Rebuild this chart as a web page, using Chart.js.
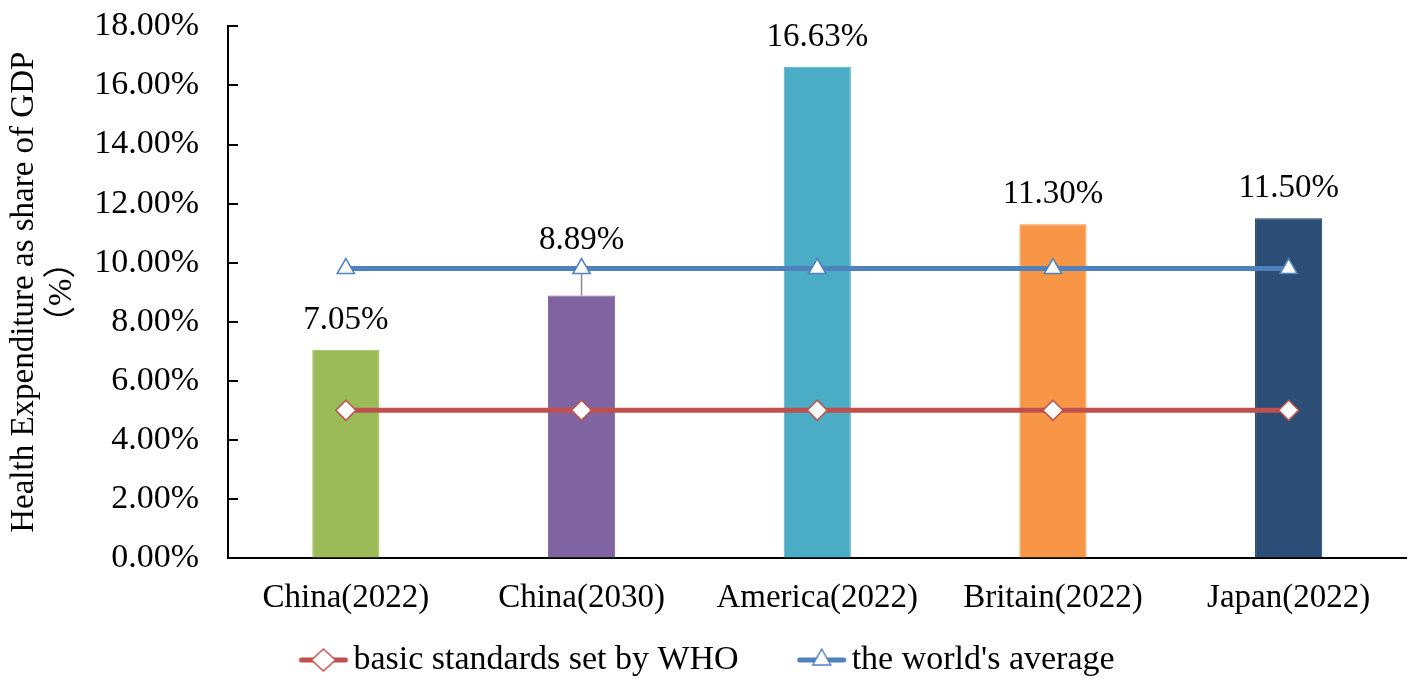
<!DOCTYPE html>
<html>
<head>
<meta charset="utf-8">
<script src="https://cdn.jsdelivr.net/npm/chart.js@4.4.1/dist/chart.umd.min.js"></script>
<style>
  html, body { margin: 0; padding: 0; background: #fff; }
  #wrap { width: 1418px; height: 687px; position: relative; }
</style>
</head>
<body>
<div id="wrap"><canvas id="chart"></canvas></div>
<script>
// data
const categories = ['China(2022)', 'China(2030)', 'America(2022)', 'Britain(2022)', 'Japan(2022)'];
const expenditure = [7.05, 8.89, 16.63, 11.30, 11.50];
const whoStandard = [5, 5, 5, 5, 5];
const worldAverage = [9.8, 9.8, 9.8, 9.8, 9.8];
const yTicks = [0, 2, 4, 6, 8, 10, 12, 14, 16, 18];
const legendNames = ['basic standards set by WHO', "the world's average"];

const serif = "'Liberation Serif', 'Noto Sans CJK SC', serif";
const barColors = ['#9BBB59', '#8064A2', '#4BACC6', '#F79646', '#2C4D75'];
const barBorders = ['#9BBB59', '#8064A2', '#4BACC6', '#F79646', '#1B3558'];
const whoColor = '#C0504D';
const worldColor = '#4F81BD';

const legendFont = 34;
const legendBox = 86; // room kept for the line sample in the legend

// line + marker sample for the legend (drawn at the right end of the box)
function legendIcon(color, style) {
  const w = legendBox + legendFont / 2 - 4 - legendBox / 2;
  const c = document.createElement('canvas');
  c.width = w * 2; c.height = 26;
  const g = c.getContext('2d');
  const x1 = c.width - 1, x0 = x1 - 50, cy = 13, cx = (x0 + x1) / 2;
  g.strokeStyle = color;
  g.lineWidth = 5;
  g.lineCap = 'round';
  g.beginPath(); g.moveTo(x0 + 3, cy); g.lineTo(x1 - 3, cy); g.stroke();
  g.fillStyle = '#fff';
  g.lineWidth = 1.5;
  g.beginPath();
  if (style === 'diamond') {
    g.moveTo(cx, cy - 11); g.lineTo(cx + 12, cy); g.lineTo(cx, cy + 11); g.lineTo(cx - 12, cy);
  } else {
    g.moveTo(cx, cy - 11); g.lineTo(cx + 9, cy + 5); g.lineTo(cx - 9, cy + 5);
  }
  g.closePath(); g.fill(); g.stroke();
  return c;
}
const icons = [legendIcon(whoColor, 'diamond'), legendIcon(worldColor, 'triangle')];

// value labels above the bars and the grey pointer at China(2030)
const barLabels = {
  id: 'barLabels',
  afterDatasetsDraw(chart) {
    const ctx = chart.ctx;
    const meta = chart.getDatasetMeta(2);
    const y = chart.scales.y;
    ctx.save();
    ctx.font = '33px ' + serif;
    ctx.fillStyle = '#000';
    ctx.textAlign = 'center';
    ctx.textBaseline = 'alphabetic';
    meta.data.forEach((b, i) => {
      const avgPx = y.getPixelForValue(worldAverage[i]);
      let base = b.y - 21;
      if (Math.abs(expenditure[i] - worldAverage[i]) < 1.5) {
        // label sits above the average line, with a pointer down to the bar
        base = avgPx - 20;
        ctx.save();
        ctx.strokeStyle = '#8C8C8C';
        ctx.lineWidth = 1.5;
        ctx.beginPath();
        ctx.moveTo(b.x, b.y);
        ctx.lineTo(b.x, avgPx + 5);
        ctx.stroke();
        ctx.restore();
      }
      ctx.fillText(expenditure[i].toFixed(2) + '%', b.x, base);
    });
    ctx.restore();
  }
};

// tick marks on the inner side of the y axis
const innerTicks = {
  id: 'innerTicks',
  afterDraw(chart) {
    const ctx = chart.ctx;
    const y = chart.scales.y;
    const left = chart.chartArea.left;
    ctx.save();
    ctx.strokeStyle = '#000';
    ctx.lineWidth = 2;
    yTicks.forEach(v => {
      const py = Math.round(y.getPixelForValue(v));
      ctx.beginPath();
      ctx.moveTo(left, py);
      ctx.lineTo(left + 10, py);
      ctx.stroke();
    });
    ctx.restore();
  }
};

// nudge the legend a little to the left, as in the original
const legendShift = {
  id: 'legendShift',
  afterLayout(chart) {
    chart.legend.left -= 22;
    chart.legend.right -= 22;
  }
};

new Chart(document.getElementById('chart'), {
  data: {
    labels: categories,
    datasets: [
      {
        type: 'line',
        label: legendNames[0],
        data: whoStandard,
        borderColor: whoColor,
        borderWidth: 5,
        pointStyle: 'rectRot',
        pointRadius: 10,
        pointBackgroundColor: '#fff',
        pointBorderColor: whoColor,
        pointBorderWidth: 1.5
      },
      {
        type: 'line',
        label: legendNames[1],
        data: worldAverage,
        borderColor: worldColor,
        borderWidth: 5,
        pointStyle: 'triangle',
        pointRadius: 10,
        pointBackgroundColor: '#fff',
        pointBorderColor: worldColor,
        pointBorderWidth: 1.5
      },
      {
        type: 'bar',
        label: 'Health Expenditure',
        data: expenditure,
        backgroundColor: barColors,
        borderColor: barBorders,
        borderWidth: 1,
        categoryPercentage: 1,
        barPercentage: 0.285
      }
    ]
  },
  options: {
    responsive: true,
    maintainAspectRatio: false,
    animation: false,
    devicePixelRatio: 1,
    layout: { padding: { left: 0, right: 9, top: 0, bottom: 0 } },
    scales: {
      x: {
        grid: { display: false },
        border: { color: '#000', width: 2 },
        ticks: { color: '#000', font: { family: serif, size: 33 }, padding: 13, maxRotation: 0 },
        afterFit(scale) { scale.height = 75; }
      },
      y: {
        min: 0,
        max: 18,
        grid: { drawOnChartArea: false, drawTicks: true, tickLength: 23, tickColor: 'rgba(0,0,0,0)' },
        border: { color: '#000', width: 2 },
        afterBuildTicks(scale) { scale.ticks = yTicks.map(v => ({ value: v })); },
        ticks: {
          color: '#000',
          font: { family: serif, size: 34 },
          padding: 6,
          callback: v => v.toFixed(2) + '%'
        },
        title: {
          display: true,
          text: ['Health Expenditure as share of GDP', '（%）'],
          color: '#000',
          font: { family: serif, size: 33, lineHeight: 1.15 },
          padding: { top: 5, bottom: 0 }
        },
        afterFit(scale) { scale.width = 228; }
      }
    },
    plugins: {
      legend: {
        position: 'bottom',
        labels: {
          usePointStyle: true,
          pointStyleWidth: legendBox,
          color: '#000',
          font: { family: serif, size: legendFont },
          generateLabels: () => legendNames.map((name, i) => ({
            text: name,
            datasetIndex: i,
            pointStyle: icons[i],
            fillStyle: '#fff',
            strokeStyle: '#fff',
            lineWidth: 0,
            hidden: false
          }))
        }
      },
      tooltip: { enabled: false }
    }
  },
  plugins: [barLabels, innerTicks, legendShift]
});
</script>
</body>
</html>
